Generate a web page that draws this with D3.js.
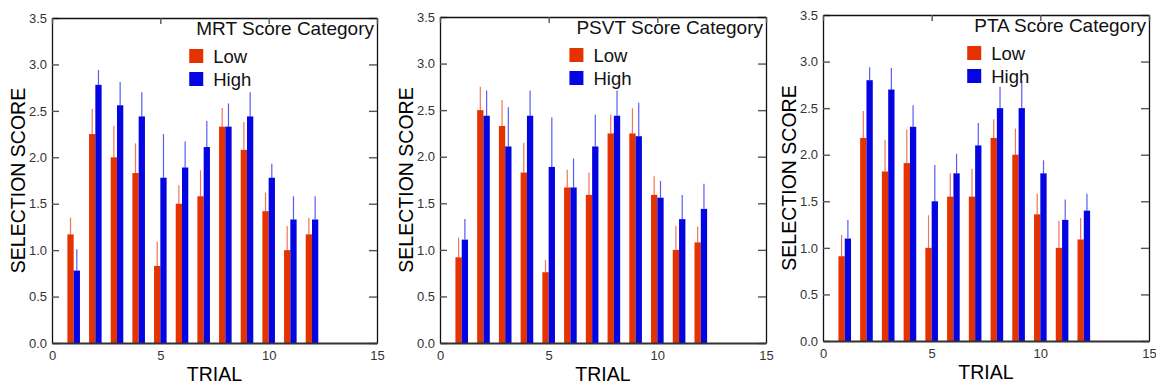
<!DOCTYPE html>
<html>
<head>
<meta charset="utf-8">
<script src="https://cdn.jsdelivr.net/npm/d3@7"></script>
<style>
  html, body { margin: 0; padding: 0; background: #fff; }
  svg { display: block; font-family: "Liberation Sans", Arial, sans-serif; }
</style>
</head>
<body>
<svg id="chart" width="1156" height="388"></svg>
<script>
// Trials and axis ticks
const trials = [1, 2, 3, 4, 5, 6, 7, 8, 9, 10, 11, 12];
const yTicks = [0, 0.5, 1.0, 1.5, 2.0, 2.5, 3.0, 3.5];
const xTicks = [0, 5, 10, 15];
const seriesNames = ["Low", "High"];

// MRT score category: mean selection score and upper error per trial
const mrtLow      = [1.17, 2.25, 2.00, 1.83, 0.83, 1.50, 1.58, 2.33, 2.08, 1.42, 1.00, 1.17];
const mrtLowErr   = [0.18, 0.27, 0.34, 0.32, 0.26, 0.20, 0.28, 0.20, 0.30, 0.20, 0.26, 0.18];
const mrtHigh     = [0.78, 2.78, 2.56, 2.44, 1.78, 1.89, 2.11, 2.33, 2.44, 1.78, 1.33, 1.33];
const mrtHighErr  = [0.23, 0.16, 0.25, 0.26, 0.47, 0.28, 0.28, 0.25, 0.26, 0.15, 0.25, 0.25];

// PSVT score category
const psvtLow     = [0.92, 2.50, 2.33, 1.83, 0.76, 1.67, 1.59, 2.25, 2.25, 1.59, 1.00, 1.08];
const psvtLowErr  = [0.21, 0.25, 0.28, 0.32, 0.13, 0.19, 0.24, 0.20, 0.27, 0.20, 0.26, 0.17];
const psvtHigh    = [1.11, 2.44, 2.11, 2.44, 1.89, 1.67, 2.11, 2.44, 2.22, 1.56, 1.33, 1.44];
const psvtHighErr = [0.22, 0.27, 0.42, 0.27, 0.53, 0.31, 0.34, 0.27, 0.36, 0.18, 0.26, 0.27];

// PTA score category
const ptaLow      = [0.91, 2.18, 1.82, 1.91, 1.00, 1.55, 1.55, 2.18, 2.00, 1.36, 1.00, 1.09];
const ptaLowErr   = [0.23, 0.29, 0.34, 0.36, 0.35, 0.25, 0.30, 0.20, 0.28, 0.22, 0.29, 0.23];
const ptaHigh     = [1.10, 2.80, 2.70, 2.30, 1.50, 1.80, 2.10, 2.50, 2.50, 1.80, 1.30, 1.40];
const ptaHighErr  = [0.20, 0.14, 0.23, 0.23, 0.39, 0.21, 0.24, 0.23, 0.29, 0.14, 0.22, 0.18];

const panels = [
  { title: "MRT Score Category",  low: mrtLow,  lowErr: mrtLowErr,  high: mrtHigh,  highErr: mrtHighErr,
    left: 52, top: 18, width: 325, height: 325 },
  { title: "PSVT Score Category", low: psvtLow, lowErr: psvtLowErr, high: psvtHigh, highErr: psvtHighErr,
    left: 440, top: 17, width: 326, height: 326 },
  { title: "PTA Score Category",  low: ptaLow,  lowErr: ptaLowErr,  high: ptaHigh,  highErr: ptaHighErr,
    left: 823, top: 15, width: 326, height: 326 }
];

const colors = { Low: "#e43200", High: "#0505e2" };
const errColors = { Low: "#f0765a", High: "#5a5cf6" };
const barWidth = 0.29;  // in trial units

const svg = d3.select("#chart");

panels.forEach(p => {
  const g = svg.append("g").attr("transform", `translate(${p.left},${p.top})`);
  const x = d3.scaleLinear().domain([0, 15]).range([0, p.width]);
  const y = d3.scaleLinear().domain([0, 3.5]).range([p.height, 0]);

  const series = [
    { name: "Low",  values: p.low,  errs: p.lowErr,  offset: -barWidth },
    { name: "High", values: p.high, errs: p.highErr, offset: 0 }
  ];

  // bars with upward error lines
  series.forEach(s => {
    const data = trials.map((t, i) => ({ t, v: s.values[i], e: s.errs[i] }));
    g.append("g").selectAll("line")
      .data(data).join("line")
      .attr("x1", d => x(d.t + s.offset + barWidth / 2))
      .attr("x2", d => x(d.t + s.offset + barWidth / 2))
      .attr("y1", d => y(d.v))
      .attr("y2", d => y(d.v + d.e))
      .attr("stroke", errColors[s.name])
      .attr("stroke-width", 1.2);
    g.append("g").selectAll("rect")
      .data(data).join("rect")
      .attr("x", d => x(d.t + s.offset))
      .attr("width", x(barWidth) - x(0))
      .attr("y", d => y(d.v))
      .attr("height", d => y(0) - y(d.v))
      .attr("fill", colors[s.name]);
  });

  // frame: left/bottom axes with labels, plain ticks on top/right
  const styleAxis = sel => {
    sel.select(".domain").attr("stroke", "#111").attr("stroke-width", 1.3);
    sel.selectAll(".tick line").attr("stroke", "#555").attr("stroke-width", 1.4);
    sel.selectAll(".tick text").attr("fill", "#333").attr("font-size", 13)
      .attr("font-family", "Liberation Sans, Arial, sans-serif");
  };

  g.append("g")
    .call(d3.axisLeft(y).tickValues(yTicks).tickSize(-7).tickSizeOuter(0)
      .tickPadding(5).tickFormat(d3.format(".1f")))
    .call(styleAxis);

  g.append("g").attr("transform", `translate(${p.width},0)`)
    .call(d3.axisRight(y).tickValues(yTicks).tickSize(-8).tickSizeOuter(0).tickFormat(""))
    .call(styleAxis);

  g.append("g")
    .call(d3.axisTop(x).tickValues(xTicks).tickSize(-6).tickSizeOuter(0).tickFormat(""))
    .call(styleAxis);

  g.append("g").attr("transform", `translate(0,${p.height})`)
    .call(d3.axisBottom(x).tickValues(xTicks).tickSize(0).tickSizeOuter(0).tickPadding(8))
    .call(styleAxis)
    .call(a => a.select(".domain").attr("stroke", "#333").attr("stroke-width", 1.8));

  // axis titles
  g.append("text")
    .attr("transform", `translate(-34,${p.height / 2}) rotate(-90)`)
    .attr("text-anchor", "middle")
    .attr("dominant-baseline", "central")
    .attr("font-size", 19.5)
    .attr("fill", "#000")
    .text("SELECTION SCORE");

  g.append("text")
    .attr("x", p.width / 2)
    .attr("y", p.height + 38)
    .attr("text-anchor", "middle")
    .attr("font-size", 19.5)
    .attr("fill", "#000")
    .text("TRIAL");

  // legend
  const title = g.append("text")
    .attr("x", p.width - 3)
    .attr("y", 17)
    .attr("text-anchor", "end")
    .attr("font-size", 19)
    .attr("fill", "#111")
    .text(p.title);
  const titleStart = p.width - 3 - title.node().getComputedTextLength();
  const legendX = titleStart - 7;

  seriesNames.forEach((name, i) => {
    g.append("rect")
      .attr("x", legendX)
      .attr("y", 31 + i * 23)
      .attr("width", 14)
      .attr("height", 14)
      .attr("fill", colors[name]);
    g.append("text")
      .attr("x", legendX + 24)
      .attr("y", 45 + i * 23)
      .attr("font-size", 18.5)
      .attr("fill", "#111")
      .text(name);
  });
});
</script>
</body>
</html>
